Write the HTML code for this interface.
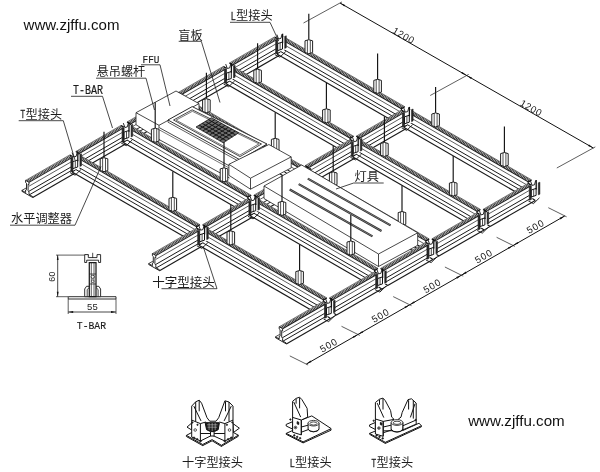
<!DOCTYPE html>
<html><head><meta charset="utf-8"><title>T-BAR ceiling grid</title>
<style>html,body{margin:0;padding:0;background:#fff}svg{display:block;will-change:transform}text{font-family:"Liberation Sans",sans-serif}text.m{font-family:"Liberation Mono",monospace}text.c{font-family:"Liberation Sans","Noto Sans CJK SC",sans-serif}</style></head>
<body>
<svg width="600" height="472" viewBox="0 0 600 472" fill="none" stroke-linecap="butt">
<path d="M229.4 63L274.6 36.9L278 38.9L278 42.7L277.7 47.9L278 51.5L281.7 54L236.5 80.1L232.8 77.6L232.5 74L232.8 68.8L232.8 65Z" fill="#fff" stroke="none" stroke-width="0.8" />
<path d="M231.1 64L276.3 37.9" stroke="#c4c4c4" stroke-width="2.5" />
<path d="M231.1 64L276.3 37.9" stroke="#1e1e1e" stroke-width="2.5" stroke-dasharray="0.8 0.8"/>
<path d="M229.4 63L274.6 36.9" stroke="#1a1a1a" stroke-width="0.6" />
<path d="M232.8 65L278 38.9" stroke="#1a1a1a" stroke-width="1.05" />
<path d="M232.8 68.8L278 42.7" stroke="#1a1a1a" stroke-width="0.7" />
<path d="M232.5 74L277.7 47.9" stroke="#1a1a1a" stroke-width="1.0" />
<path d="M232.8 77.6L278 51.5" stroke="#1a1a1a" stroke-width="1.0" />
<path d="M236.5 80.1L281.7 54" stroke="#1a1a1a" stroke-width="1.15" />
<path d="M229.4 63L232.8 65L232.8 68.8L232.5 74L232.8 77.6L236.5 80.1" fill="none" stroke="#111" stroke-width="1.15" />
<path d="M274.6 36.9L278 38.9L278 42.7L277.7 47.9L278 51.5L281.7 54" fill="none" stroke="#111" stroke-width="1.15" />
<path d="M178.2 92.5L223.4 66.4L226.8 68.4L226.8 72.2L226.5 77.4L226.8 81L230.5 83.5L185.3 109.6L181.6 107.1L181.3 103.5L181.6 98.3L181.6 94.5Z" fill="#fff" stroke="none" stroke-width="0.8" />
<path d="M179.9 93.5L225.1 67.4" stroke="#c4c4c4" stroke-width="2.5" />
<path d="M179.9 93.5L225.1 67.4" stroke="#1e1e1e" stroke-width="2.5" stroke-dasharray="0.8 0.8"/>
<path d="M178.2 92.5L223.4 66.4" stroke="#1a1a1a" stroke-width="0.6" />
<path d="M181.6 94.5L226.8 68.4" stroke="#1a1a1a" stroke-width="1.05" />
<path d="M181.6 98.3L226.8 72.2" stroke="#1a1a1a" stroke-width="0.7" />
<path d="M181.3 103.5L226.5 77.4" stroke="#1a1a1a" stroke-width="1.0" />
<path d="M181.6 107.1L226.8 81" stroke="#1a1a1a" stroke-width="1.0" />
<path d="M185.3 109.6L230.5 83.5" stroke="#1a1a1a" stroke-width="1.15" />
<path d="M178.2 92.5L181.6 94.5L181.6 98.3L181.3 103.5L181.6 107.1L185.3 109.6" fill="none" stroke="#111" stroke-width="1.15" />
<path d="M223.4 66.4L226.8 68.4L226.8 72.2L226.5 77.4L226.8 81L230.5 83.5" fill="none" stroke="#111" stroke-width="1.15" />
<path d="M127 122L172.2 95.9L175.6 97.9L175.6 101.7L175.3 106.9L175.6 110.5L179.3 113L134.1 139.1L130.4 136.6L130.1 133L130.4 127.8L130.4 124Z" fill="#fff" stroke="none" stroke-width="0.8" />
<path d="M128.7 123L173.9 96.9" stroke="#c4c4c4" stroke-width="2.5" />
<path d="M128.7 123L173.9 96.9" stroke="#1e1e1e" stroke-width="2.5" stroke-dasharray="0.8 0.8"/>
<path d="M127 122L172.2 95.9" stroke="#1a1a1a" stroke-width="0.6" />
<path d="M130.4 124L175.6 97.9" stroke="#1a1a1a" stroke-width="1.05" />
<path d="M130.4 127.8L175.6 101.7" stroke="#1a1a1a" stroke-width="0.7" />
<path d="M130.1 133L175.3 106.9" stroke="#1a1a1a" stroke-width="1.0" />
<path d="M130.4 136.6L175.6 110.5" stroke="#1a1a1a" stroke-width="1.0" />
<path d="M134.1 139.1L179.3 113" stroke="#1a1a1a" stroke-width="1.15" />
<path d="M127 122L130.4 124L130.4 127.8L130.1 133L130.4 136.6L134.1 139.1" fill="none" stroke="#111" stroke-width="1.15" />
<path d="M172.2 95.9L175.6 97.9L175.6 101.7L175.3 106.9L175.6 110.5L179.3 113" fill="none" stroke="#111" stroke-width="1.15" />
<path d="M75.8 151.5L121 125.4L124.4 127.4L124.4 131.2L124.1 136.4L124.4 140L128.1 142.5L82.9 168.6L79.2 166.1L78.9 162.5L79.2 157.3L79.2 153.5Z" fill="#fff" stroke="none" stroke-width="0.8" />
<path d="M77.5 152.5L122.7 126.4" stroke="#c4c4c4" stroke-width="2.5" />
<path d="M77.5 152.5L122.7 126.4" stroke="#1e1e1e" stroke-width="2.5" stroke-dasharray="0.8 0.8"/>
<path d="M75.8 151.5L121 125.4" stroke="#1a1a1a" stroke-width="0.6" />
<path d="M79.2 153.5L124.4 127.4" stroke="#1a1a1a" stroke-width="1.05" />
<path d="M79.2 157.3L124.4 131.2" stroke="#1a1a1a" stroke-width="0.7" />
<path d="M78.9 162.5L124.1 136.4" stroke="#1a1a1a" stroke-width="1.0" />
<path d="M79.2 166.1L124.4 140" stroke="#1a1a1a" stroke-width="1.0" />
<path d="M82.9 168.6L128.1 142.5" stroke="#1a1a1a" stroke-width="1.15" />
<path d="M75.8 151.5L79.2 153.5L79.2 157.3L78.9 162.5L79.2 166.1L82.9 168.6" fill="none" stroke="#111" stroke-width="1.15" />
<path d="M121 125.4L124.4 127.4L124.4 131.2L124.1 136.4L124.4 140L128.1 142.5" fill="none" stroke="#111" stroke-width="1.15" />
<path d="M25.6 180.4L69.8 154.9L73.2 156.9L73.2 160.7L72.9 165.9L73.2 169.5L76.9 172L32.7 197.5L29 195L28.7 191.4L29 186.2L29 182.4Z" fill="#fff" stroke="none" stroke-width="0.8" />
<path d="M27.3 181.4L71.5 155.9" stroke="#c4c4c4" stroke-width="2.5" />
<path d="M27.3 181.4L71.5 155.9" stroke="#1e1e1e" stroke-width="2.5" stroke-dasharray="0.8 0.8"/>
<path d="M25.6 180.4L69.8 154.9" stroke="#1a1a1a" stroke-width="0.6" />
<path d="M29 182.4L73.2 156.9" stroke="#1a1a1a" stroke-width="1.05" />
<path d="M29 186.2L73.2 160.7" stroke="#1a1a1a" stroke-width="0.7" />
<path d="M28.7 191.4L72.9 165.9" stroke="#1a1a1a" stroke-width="1.0" />
<path d="M29 195L73.2 169.5" stroke="#1a1a1a" stroke-width="1.0" />
<path d="M32.7 197.5L76.9 172" stroke="#1a1a1a" stroke-width="1.15" />
<path d="M69.8 154.9L73.2 156.9L73.2 160.7L72.9 165.9L73.2 169.5L76.9 172" fill="none" stroke="#111" stroke-width="1.15" />
<path d="M21.9 191.3L32.7 197.5L32.7 196.6L29 194.5L29 192L28.1 190.6L28.1 184.2L29 184.5L29 182.3L25.6 180.3L25.6 182.5L26.5 183.3L26.5 189.7L25.6 190L25.6 192.5L21.9 190.4Z" fill="#fff" stroke="#111" stroke-width="0.9" />
<path d="M21.9 190.4L26.1 188" stroke="#1a1a1a" stroke-width="0.8" />
<path d="M76.7 172.2L83.1 168.5" stroke="#1a1a1a" stroke-width="1.0" />
<path d="M73 169.6L79.4 166" stroke="#1a1a1a" stroke-width="1.0" />
<path d="M127.9 142.7L134.3 139" stroke="#1a1a1a" stroke-width="1.0" />
<path d="M124.2 140.1L130.6 136.5" stroke="#1a1a1a" stroke-width="1.0" />
<path d="M179.1 113.2L185.5 109.5" stroke="#1a1a1a" stroke-width="1.0" />
<path d="M175.4 110.6L181.8 107" stroke="#1a1a1a" stroke-width="1.0" />
<path d="M230.3 83.7L236.7 80" stroke="#1a1a1a" stroke-width="1.0" />
<path d="M226.6 81.1L233 77.5" stroke="#1a1a1a" stroke-width="1.0" />
<path d="M284 36.9L404.8 106.7L401.4 108.7L401.4 112.5L401.7 117.7L401.4 121.3L397.7 123.8L276.9 54L280.6 51.5L280.9 47.9L280.6 42.7L280.6 38.9Z" fill="#fff" stroke="none" stroke-width="0.8" />
<path d="M282.3 37.9L403.1 107.7" stroke="#c4c4c4" stroke-width="2.9" />
<path d="M282.3 37.9L403.1 107.7" stroke="#1e1e1e" stroke-width="2.9" stroke-dasharray="0.8 0.8"/>
<path d="M284 36.9L404.8 106.7" stroke="#1a1a1a" stroke-width="0.6" />
<path d="M280.6 38.9L401.4 108.7" stroke="#1a1a1a" stroke-width="1.05" />
<path d="M280.6 42.7L401.4 112.5" stroke="#1a1a1a" stroke-width="0.7" />
<path d="M280.9 47.9L401.7 117.7" stroke="#1a1a1a" stroke-width="1.0" />
<path d="M280.6 51.5L401.4 121.3" stroke="#1a1a1a" stroke-width="1.0" />
<path d="M276.9 54L397.7 123.8" stroke="#1a1a1a" stroke-width="1.15" />
<path d="M284 36.9L280.6 38.9L280.6 42.7L280.9 47.9L280.6 51.5L276.9 54" fill="none" stroke="#111" stroke-width="1.15" />
<path d="M404.8 106.7L401.4 108.7L401.4 112.5L401.7 117.7L401.4 121.3L397.7 123.8" fill="none" stroke="#111" stroke-width="1.15" />
<path d="M305 52.5L305 40.8Q308.8 38.6 312.6 40.8L312.6 52.5Q308.8 54.9 305 52.5Z" fill="#fff" stroke="#151515" stroke-width="0.95"/>
<path d="M307.4 40.1L307.4 53.6" stroke="#1a1a1a" stroke-width="0.75" />
<path d="M310.3 40.1L310.3 53.6" stroke="#1a1a1a" stroke-width="0.75" />
<path d="M308.8 39.6L308.8 13.8" stroke="#111" stroke-width="1.15" />
<path d="M373.8 92.1L373.8 80.4Q377.6 78.2 381.4 80.4L381.4 92.1Q377.6 94.5 373.8 92.1Z" fill="#fff" stroke="#151515" stroke-width="0.95"/>
<path d="M376.2 79.7L376.2 93.2" stroke="#1a1a1a" stroke-width="0.75" />
<path d="M379.1 79.7L379.1 93.2" stroke="#1a1a1a" stroke-width="0.75" />
<path d="M377.6 79.2L377.6 53.4" stroke="#111" stroke-width="1.15" />
<path d="M275.9 39.2L286.2 35.7L286.2 48.7L275.9 53.4Z" fill="#fff" stroke="none" stroke-width="0.8" />
<path d="M275.7 39.7L277.7 39L277.7 53.2L275.7 53.8Z" fill="#2a2a2a" stroke="#111" stroke-width="0.6" />
<path d="M277.7 43.6L282.5 42L282.5 49L277.7 50.6Z" fill="#fff" stroke="#111" stroke-width="1.0" />
<path d="M280.1 42.8L280.1 49.8" stroke="#222" stroke-width="0.8" />
<path d="M282.6 33.7L282.6 43.2" stroke="#111" stroke-width="1.3" />
<path d="M284.7 36.4L286.3 35.8L286.3 47.8L284.7 48.4Z" fill="#2a2a2a" stroke="#111" stroke-width="0.5" />
<path d="M276.9 34.6L278.5 39L280.9 38.4L282.1 34" fill="none" stroke="#111" stroke-width="0.9" />
<path d="M274.8 54.6L279.9 57.2L285.9 51.4" fill="none" stroke="#111" stroke-width="0.9" />
<path d="M232.8 66.4L353.6 136.2L350.2 138.2L350.2 142L350.5 147.2L350.2 150.8L346.5 153.3L225.7 83.5L229.4 81L229.7 77.4L229.4 72.2L229.4 68.4Z" fill="#fff" stroke="none" stroke-width="0.8" />
<path d="M231.1 67.4L351.9 137.2" stroke="#c4c4c4" stroke-width="2.9" />
<path d="M231.1 67.4L351.9 137.2" stroke="#1e1e1e" stroke-width="2.9" stroke-dasharray="0.8 0.8"/>
<path d="M232.8 66.4L353.6 136.2" stroke="#1a1a1a" stroke-width="0.6" />
<path d="M229.4 68.4L350.2 138.2" stroke="#1a1a1a" stroke-width="1.05" />
<path d="M229.4 72.2L350.2 142" stroke="#1a1a1a" stroke-width="0.7" />
<path d="M229.7 77.4L350.5 147.2" stroke="#1a1a1a" stroke-width="1.0" />
<path d="M229.4 81L350.2 150.8" stroke="#1a1a1a" stroke-width="1.0" />
<path d="M225.7 83.5L346.5 153.3" stroke="#1a1a1a" stroke-width="1.15" />
<path d="M232.8 66.4L229.4 68.4L229.4 72.2L229.7 77.4L229.4 81L225.7 83.5" fill="none" stroke="#111" stroke-width="1.15" />
<path d="M353.6 136.2L350.2 138.2L350.2 142L350.5 147.2L350.2 150.8L346.5 153.3" fill="none" stroke="#111" stroke-width="1.15" />
<path d="M253.8 82L253.8 70.3Q257.6 68.1 261.4 70.3L261.4 82Q257.6 84.4 253.8 82Z" fill="#fff" stroke="#151515" stroke-width="0.95"/>
<path d="M256.2 69.6L256.2 83.1" stroke="#1a1a1a" stroke-width="0.75" />
<path d="M259.1 69.6L259.1 83.1" stroke="#1a1a1a" stroke-width="0.75" />
<path d="M257.6 69.1L257.6 43.3" stroke="#111" stroke-width="1.15" />
<path d="M322.6 121.6L322.6 109.9Q326.4 107.7 330.2 109.9L330.2 121.6Q326.4 124 322.6 121.6Z" fill="#fff" stroke="#151515" stroke-width="0.95"/>
<path d="M325 109.2L325 122.7" stroke="#1a1a1a" stroke-width="0.75" />
<path d="M327.9 109.2L327.9 122.7" stroke="#1a1a1a" stroke-width="0.75" />
<path d="M326.4 108.7L326.4 82.9" stroke="#111" stroke-width="1.15" />
<path d="M224.7 68.7L235 65.2L235 78.2L224.7 82.9Z" fill="#fff" stroke="none" stroke-width="0.8" />
<path d="M224.5 69.2L226.5 68.5L226.5 82.7L224.5 83.3Z" fill="#2a2a2a" stroke="#111" stroke-width="0.6" />
<path d="M226.5 73.1L231.3 71.5L231.3 78.5L226.5 80.1Z" fill="#fff" stroke="#111" stroke-width="1.0" />
<path d="M228.9 72.3L228.9 79.3" stroke="#222" stroke-width="0.8" />
<path d="M231.4 63.2L231.4 72.7" stroke="#111" stroke-width="1.3" />
<path d="M233.5 65.9L235.1 65.3L235.1 77.3L233.5 77.9Z" fill="#2a2a2a" stroke="#111" stroke-width="0.5" />
<path d="M225.7 64.1L227.3 68.5L229.7 67.9L230.9 63.5" fill="none" stroke="#111" stroke-width="0.9" />
<path d="M223.6 84.1L228.7 86.7L234.7 80.9" fill="none" stroke="#111" stroke-width="0.9" />
<path d="M181.6 95.9L302.4 165.7L299 167.7L299 171.5L299.3 176.7L299 180.3L295.3 182.8L174.5 113L178.2 110.5L178.5 106.9L178.2 101.7L178.2 97.9Z" fill="#fff" stroke="none" stroke-width="0.8" />
<path d="M179.9 96.9L300.7 166.7" stroke="#c4c4c4" stroke-width="2.9" />
<path d="M179.9 96.9L300.7 166.7" stroke="#1e1e1e" stroke-width="2.9" stroke-dasharray="0.8 0.8"/>
<path d="M181.6 95.9L302.4 165.7" stroke="#1a1a1a" stroke-width="0.6" />
<path d="M178.2 97.9L299 167.7" stroke="#1a1a1a" stroke-width="1.05" />
<path d="M178.2 101.7L299 171.5" stroke="#1a1a1a" stroke-width="0.7" />
<path d="M178.5 106.9L299.3 176.7" stroke="#1a1a1a" stroke-width="1.0" />
<path d="M178.2 110.5L299 180.3" stroke="#1a1a1a" stroke-width="1.0" />
<path d="M174.5 113L295.3 182.8" stroke="#1a1a1a" stroke-width="1.15" />
<path d="M181.6 95.9L178.2 97.9L178.2 101.7L178.5 106.9L178.2 110.5L174.5 113" fill="none" stroke="#111" stroke-width="1.15" />
<path d="M302.4 165.7L299 167.7L299 171.5L299.3 176.7L299 180.3L295.3 182.8" fill="none" stroke="#111" stroke-width="1.15" />
<path d="M202.6 111.5L202.6 99.8Q206.4 97.6 210.2 99.8L210.2 111.5Q206.4 113.9 202.6 111.5Z" fill="#fff" stroke="#151515" stroke-width="0.95"/>
<path d="M205 99.1L205 112.6" stroke="#1a1a1a" stroke-width="0.75" />
<path d="M207.9 99.1L207.9 112.6" stroke="#1a1a1a" stroke-width="0.75" />
<path d="M206.4 98.6L206.4 72.8" stroke="#111" stroke-width="1.15" />
<path d="M271.4 151.1L271.4 139.4Q275.2 137.2 279 139.4L279 151.1Q275.2 153.5 271.4 151.1Z" fill="#fff" stroke="#151515" stroke-width="0.95"/>
<path d="M273.8 138.7L273.8 152.2" stroke="#1a1a1a" stroke-width="0.75" />
<path d="M276.7 138.7L276.7 152.2" stroke="#1a1a1a" stroke-width="0.75" />
<path d="M275.2 138.2L275.2 112.4" stroke="#111" stroke-width="1.15" />
<path d="M173.5 98.2L183.8 94.7L183.8 107.7L173.5 112.4Z" fill="#fff" stroke="none" stroke-width="0.8" />
<path d="M173.3 98.7L175.3 98L175.3 112.2L173.3 112.8Z" fill="#2a2a2a" stroke="#111" stroke-width="0.6" />
<path d="M175.3 102.6L180.1 101L180.1 108L175.3 109.6Z" fill="#fff" stroke="#111" stroke-width="1.0" />
<path d="M177.7 101.8L177.7 108.8" stroke="#222" stroke-width="0.8" />
<path d="M180.2 92.7L180.2 102.2" stroke="#111" stroke-width="1.3" />
<path d="M182.3 95.4L183.9 94.8L183.9 106.8L182.3 107.4Z" fill="#2a2a2a" stroke="#111" stroke-width="0.5" />
<path d="M174.5 93.6L176.1 98L178.5 97.4L179.7 93" fill="none" stroke="#111" stroke-width="0.9" />
<path d="M172.4 113.6L177.5 116.2L183.5 110.4" fill="none" stroke="#111" stroke-width="0.9" />
<path d="M136 112.7L176 91L199 103.6L199 115.6L159 139.3L136 124.7Z" fill="#fff" stroke="#1a1a1a" stroke-width="0.8" />
<path d="M136 112.7L159 125.3L199 103.6" fill="none" stroke="#1a1a1a" stroke-width="0.8" />
<path d="M159 125.3L159 139.3" stroke="#1a1a1a" stroke-width="0.8" />
<path d="M159 127.5L192 108L266 144L239.5 158.5L229.5 166L229.5 178L159 139.5Z" fill="#fff" stroke="none" stroke-width="0.8" />
<path d="M159 127.5L229.5 166" stroke="#1a1a1a" stroke-width="0.8" />
<path d="M159 139.5L229.5 178" stroke="#1a1a1a" stroke-width="0.8" />
<path d="M159 129.7L229.5 168.2" stroke="#1a1a1a" stroke-width="0.6" />
<path d="M168 120L192.2 106.6L267 144L240 159.8Z" fill="#fff" stroke="#1a1a1a" stroke-width="0.9" />
<path d="M168 122.2L240 162" stroke="#1a1a1a" stroke-width="0.7" />
<path d="M168 120L168 122.2" stroke="#1a1a1a" stroke-width="0.7" />
<path d="M173.5 120L192.2 109.8L261.5 144L240 156.6Z" fill="none" stroke="#1a1a1a" stroke-width="0.8" />
<path d="M176.1 120.1L192.4 111.3L258.9 143.9L239.8 155.1Z" fill="none" stroke="#1a1a1a" stroke-width="0.6" />
<path d="M196 127L211.5 117.7L238.6 132.9L223.2 142.8Z" fill="#6e6e6e" stroke="#1a1a1a" stroke-width="0.8" />
<path d="M199.4 129L214.9 119.6" stroke="#151515" stroke-width="1.0" />
<path d="M202.8 130.9L218.3 121.5" stroke="#151515" stroke-width="1.0" />
<path d="M206.2 132.9L221.7 123.4" stroke="#151515" stroke-width="1.0" />
<path d="M209.6 134.9L225.1 125.3" stroke="#151515" stroke-width="1.0" />
<path d="M213 136.9L228.4 127.2" stroke="#151515" stroke-width="1.0" />
<path d="M216.4 138.9L231.8 129.1" stroke="#151515" stroke-width="1.0" />
<path d="M219.8 140.8L235.2 131" stroke="#151515" stroke-width="1.0" />
<path d="M199.1 125.1L226.3 140.8" stroke="#151515" stroke-width="1.0" />
<path d="M202.2 123.3L229.4 138.8" stroke="#151515" stroke-width="1.0" />
<path d="M205.3 121.4L232.4 136.9" stroke="#151515" stroke-width="1.0" />
<path d="M208.4 119.6L235.5 134.9" stroke="#151515" stroke-width="1.0" />
<path d="M228.9 164.3L268.9 144.5L291.2 156.9L291.2 167.9L250.5 189.2L228.9 175.3Z" fill="#fff" stroke="#1a1a1a" stroke-width="0.8" />
<path d="M228.9 164.3L250.5 178.2L291.2 156.9" fill="none" stroke="#1a1a1a" stroke-width="0.8" />
<path d="M250.5 178.2L250.5 189.2" stroke="#1a1a1a" stroke-width="0.8" />
<path d="M130.4 125.4L251.2 195.2L247.8 197.2L247.8 201L248.1 206.2L247.8 209.8L244.1 212.3L123.3 142.5L127 140L127.3 136.4L127 131.2L127 127.4Z" fill="#fff" stroke="none" stroke-width="0.8" />
<path d="M128.7 126.4L249.5 196.2" stroke="#c4c4c4" stroke-width="2.9" />
<path d="M128.7 126.4L249.5 196.2" stroke="#1e1e1e" stroke-width="2.9" stroke-dasharray="0.8 0.8"/>
<path d="M130.4 125.4L251.2 195.2" stroke="#1a1a1a" stroke-width="0.6" />
<path d="M127 127.4L247.8 197.2" stroke="#1a1a1a" stroke-width="1.05" />
<path d="M127 131.2L247.8 201" stroke="#1a1a1a" stroke-width="0.7" />
<path d="M127.3 136.4L248.1 206.2" stroke="#1a1a1a" stroke-width="1.0" />
<path d="M127 140L247.8 209.8" stroke="#1a1a1a" stroke-width="1.0" />
<path d="M123.3 142.5L244.1 212.3" stroke="#1a1a1a" stroke-width="1.15" />
<path d="M130.4 125.4L127 127.4L127 131.2L127.3 136.4L127 140L123.3 142.5" fill="none" stroke="#111" stroke-width="1.15" />
<path d="M251.2 195.2L247.8 197.2L247.8 201L248.1 206.2L247.8 209.8L244.1 212.3" fill="none" stroke="#111" stroke-width="1.15" />
<path d="M151.4 141L151.4 129.3Q155.2 127.1 159 129.3L159 141Q155.2 143.4 151.4 141Z" fill="#fff" stroke="#151515" stroke-width="0.95"/>
<path d="M153.8 128.6L153.8 142.1" stroke="#1a1a1a" stroke-width="0.75" />
<path d="M156.7 128.6L156.7 142.1" stroke="#1a1a1a" stroke-width="0.75" />
<path d="M155.2 128.1L155.2 102.3" stroke="#111" stroke-width="1.15" />
<path d="M220.2 180.6L220.2 168.9Q224 166.7 227.8 168.9L227.8 180.6Q224 183 220.2 180.6Z" fill="#fff" stroke="#151515" stroke-width="0.95"/>
<path d="M222.6 168.2L222.6 181.7" stroke="#1a1a1a" stroke-width="0.75" />
<path d="M225.5 168.2L225.5 181.7" stroke="#1a1a1a" stroke-width="0.75" />
<path d="M224 167.7L224 141.9" stroke="#111" stroke-width="1.15" />
<path d="M122.3 127.7L132.6 124.2L132.6 137.2L122.3 141.9Z" fill="#fff" stroke="none" stroke-width="0.8" />
<path d="M122.1 128.2L124.1 127.5L124.1 141.7L122.1 142.3Z" fill="#2a2a2a" stroke="#111" stroke-width="0.6" />
<path d="M124.1 132.1L128.9 130.5L128.9 137.5L124.1 139.1Z" fill="#fff" stroke="#111" stroke-width="1.0" />
<path d="M126.5 131.3L126.5 138.3" stroke="#222" stroke-width="0.8" />
<path d="M129 122.2L129 131.7" stroke="#111" stroke-width="1.3" />
<path d="M131.1 124.9L132.7 124.3L132.7 136.3L131.1 136.9Z" fill="#2a2a2a" stroke="#111" stroke-width="0.5" />
<path d="M123.3 123.1L124.9 127.5L127.3 126.9L128.5 122.5" fill="none" stroke="#111" stroke-width="0.9" />
<path d="M121.2 143.1L126.3 145.7L132.3 139.9" fill="none" stroke="#111" stroke-width="0.9" />
<path d="M79.2 154.9L200 224.7L196.6 226.7L196.6 230.5L196.9 235.7L196.6 239.3L192.9 241.8L72.1 172L75.8 169.5L76.1 165.9L75.8 160.7L75.8 156.9Z" fill="#fff" stroke="none" stroke-width="0.8" />
<path d="M77.5 155.9L198.3 225.7" stroke="#c4c4c4" stroke-width="2.9" />
<path d="M77.5 155.9L198.3 225.7" stroke="#1e1e1e" stroke-width="2.9" stroke-dasharray="0.8 0.8"/>
<path d="M79.2 154.9L200 224.7" stroke="#1a1a1a" stroke-width="0.6" />
<path d="M75.8 156.9L196.6 226.7" stroke="#1a1a1a" stroke-width="1.05" />
<path d="M75.8 160.7L196.6 230.5" stroke="#1a1a1a" stroke-width="0.7" />
<path d="M76.1 165.9L196.9 235.7" stroke="#1a1a1a" stroke-width="1.0" />
<path d="M75.8 169.5L196.6 239.3" stroke="#1a1a1a" stroke-width="1.0" />
<path d="M72.1 172L192.9 241.8" stroke="#1a1a1a" stroke-width="1.15" />
<path d="M79.2 154.9L75.8 156.9L75.8 160.7L76.1 165.9L75.8 169.5L72.1 172" fill="none" stroke="#111" stroke-width="1.15" />
<path d="M200 224.7L196.6 226.7L196.6 230.5L196.9 235.7L196.6 239.3L192.9 241.8" fill="none" stroke="#111" stroke-width="1.15" />
<path d="M100.2 170.5L100.2 158.8Q104 156.6 107.8 158.8L107.8 170.5Q104 172.9 100.2 170.5Z" fill="#fff" stroke="#151515" stroke-width="0.95"/>
<path d="M102.6 158.1L102.6 171.6" stroke="#1a1a1a" stroke-width="0.75" />
<path d="M105.5 158.1L105.5 171.6" stroke="#1a1a1a" stroke-width="0.75" />
<path d="M104 157.6L104 131.8" stroke="#111" stroke-width="1.15" />
<path d="M169 210.1L169 198.4Q172.8 196.2 176.6 198.4L176.6 210.1Q172.8 212.5 169 210.1Z" fill="#fff" stroke="#151515" stroke-width="0.95"/>
<path d="M171.4 197.7L171.4 211.2" stroke="#1a1a1a" stroke-width="0.75" />
<path d="M174.3 197.7L174.3 211.2" stroke="#1a1a1a" stroke-width="0.75" />
<path d="M172.8 197.2L172.8 171.4" stroke="#111" stroke-width="1.15" />
<path d="M71.1 157.2L81.4 153.7L81.4 166.7L71.1 171.4Z" fill="#fff" stroke="none" stroke-width="0.8" />
<path d="M70.9 157.7L72.9 157L72.9 171.2L70.9 171.8Z" fill="#2a2a2a" stroke="#111" stroke-width="0.6" />
<path d="M72.9 161.6L77.7 160L77.7 167L72.9 168.6Z" fill="#fff" stroke="#111" stroke-width="1.0" />
<path d="M75.3 160.8L75.3 167.8" stroke="#222" stroke-width="0.8" />
<path d="M77.8 151.7L77.8 161.2" stroke="#111" stroke-width="1.3" />
<path d="M79.9 154.4L81.5 153.8L81.5 165.8L79.9 166.4Z" fill="#2a2a2a" stroke="#111" stroke-width="0.5" />
<path d="M72.1 152.6L73.7 157L76.1 156.4L77.3 152" fill="none" stroke="#111" stroke-width="0.9" />
<path d="M70 172.6L75.1 175.2L81.1 169.4" fill="none" stroke="#111" stroke-width="0.9" />
<path d="M356.2 136.2L401.4 110.1L404.8 112.1L404.8 115.9L404.5 121.1L404.8 124.7L408.5 127.2L363.3 153.3L359.6 150.8L359.3 147.2L359.6 142L359.6 138.2Z" fill="#fff" stroke="none" stroke-width="0.8" />
<path d="M357.9 137.2L403.1 111.1" stroke="#c4c4c4" stroke-width="2.5" />
<path d="M357.9 137.2L403.1 111.1" stroke="#1e1e1e" stroke-width="2.5" stroke-dasharray="0.8 0.8"/>
<path d="M356.2 136.2L401.4 110.1" stroke="#1a1a1a" stroke-width="0.6" />
<path d="M359.6 138.2L404.8 112.1" stroke="#1a1a1a" stroke-width="1.05" />
<path d="M359.6 142L404.8 115.9" stroke="#1a1a1a" stroke-width="0.7" />
<path d="M359.3 147.2L404.5 121.1" stroke="#1a1a1a" stroke-width="1.0" />
<path d="M359.6 150.8L404.8 124.7" stroke="#1a1a1a" stroke-width="1.0" />
<path d="M363.3 153.3L408.5 127.2" stroke="#1a1a1a" stroke-width="1.15" />
<path d="M356.2 136.2L359.6 138.2L359.6 142L359.3 147.2L359.6 150.8L363.3 153.3" fill="none" stroke="#111" stroke-width="1.15" />
<path d="M401.4 110.1L404.8 112.1L404.8 115.9L404.5 121.1L404.8 124.7L408.5 127.2" fill="none" stroke="#111" stroke-width="1.15" />
<path d="M305 165.7L350.2 139.6L353.6 141.6L353.6 145.4L353.3 150.6L353.6 154.2L357.3 156.7L312.1 182.8L308.4 180.3L308.1 176.7L308.4 171.5L308.4 167.7Z" fill="#fff" stroke="none" stroke-width="0.8" />
<path d="M306.7 166.7L351.9 140.6" stroke="#c4c4c4" stroke-width="2.5" />
<path d="M306.7 166.7L351.9 140.6" stroke="#1e1e1e" stroke-width="2.5" stroke-dasharray="0.8 0.8"/>
<path d="M305 165.7L350.2 139.6" stroke="#1a1a1a" stroke-width="0.6" />
<path d="M308.4 167.7L353.6 141.6" stroke="#1a1a1a" stroke-width="1.05" />
<path d="M308.4 171.5L353.6 145.4" stroke="#1a1a1a" stroke-width="0.7" />
<path d="M308.1 176.7L353.3 150.6" stroke="#1a1a1a" stroke-width="1.0" />
<path d="M308.4 180.3L353.6 154.2" stroke="#1a1a1a" stroke-width="1.0" />
<path d="M312.1 182.8L357.3 156.7" stroke="#1a1a1a" stroke-width="1.15" />
<path d="M305 165.7L308.4 167.7L308.4 171.5L308.1 176.7L308.4 180.3L312.1 182.8" fill="none" stroke="#111" stroke-width="1.15" />
<path d="M350.2 139.6L353.6 141.6L353.6 145.4L353.3 150.6L353.6 154.2L357.3 156.7" fill="none" stroke="#111" stroke-width="1.15" />
<path d="M253.8 195.2L299 169.1L302.4 171.1L302.4 174.9L302.1 180.1L302.4 183.7L306.1 186.2L260.9 212.3L257.2 209.8L256.9 206.2L257.2 201L257.2 197.2Z" fill="#fff" stroke="none" stroke-width="0.8" />
<path d="M255.5 196.2L300.7 170.1" stroke="#c4c4c4" stroke-width="2.5" />
<path d="M255.5 196.2L300.7 170.1" stroke="#1e1e1e" stroke-width="2.5" stroke-dasharray="0.8 0.8"/>
<path d="M253.8 195.2L299 169.1" stroke="#1a1a1a" stroke-width="0.6" />
<path d="M257.2 197.2L302.4 171.1" stroke="#1a1a1a" stroke-width="1.05" />
<path d="M257.2 201L302.4 174.9" stroke="#1a1a1a" stroke-width="0.7" />
<path d="M256.9 206.2L302.1 180.1" stroke="#1a1a1a" stroke-width="1.0" />
<path d="M257.2 209.8L302.4 183.7" stroke="#1a1a1a" stroke-width="1.0" />
<path d="M260.9 212.3L306.1 186.2" stroke="#1a1a1a" stroke-width="1.15" />
<path d="M253.8 195.2L257.2 197.2L257.2 201L256.9 206.2L257.2 209.8L260.9 212.3" fill="none" stroke="#111" stroke-width="1.15" />
<path d="M299 169.1L302.4 171.1L302.4 174.9L302.1 180.1L302.4 183.7L306.1 186.2" fill="none" stroke="#111" stroke-width="1.15" />
<path d="M202.6 224.7L247.8 198.6L251.2 200.6L251.2 204.4L250.9 209.6L251.2 213.2L254.9 215.7L209.7 241.8L206 239.3L205.7 235.7L206 230.5L206 226.7Z" fill="#fff" stroke="none" stroke-width="0.8" />
<path d="M204.3 225.7L249.5 199.6" stroke="#c4c4c4" stroke-width="2.5" />
<path d="M204.3 225.7L249.5 199.6" stroke="#1e1e1e" stroke-width="2.5" stroke-dasharray="0.8 0.8"/>
<path d="M202.6 224.7L247.8 198.6" stroke="#1a1a1a" stroke-width="0.6" />
<path d="M206 226.7L251.2 200.6" stroke="#1a1a1a" stroke-width="1.05" />
<path d="M206 230.5L251.2 204.4" stroke="#1a1a1a" stroke-width="0.7" />
<path d="M205.7 235.7L250.9 209.6" stroke="#1a1a1a" stroke-width="1.0" />
<path d="M206 239.3L251.2 213.2" stroke="#1a1a1a" stroke-width="1.0" />
<path d="M209.7 241.8L254.9 215.7" stroke="#1a1a1a" stroke-width="1.15" />
<path d="M202.6 224.7L206 226.7L206 230.5L205.7 235.7L206 239.3L209.7 241.8" fill="none" stroke="#111" stroke-width="1.15" />
<path d="M247.8 198.6L251.2 200.6L251.2 204.4L250.9 209.6L251.2 213.2L254.9 215.7" fill="none" stroke="#111" stroke-width="1.15" />
<path d="M152.4 253.6L196.6 228.1L200 230.1L200 233.9L199.7 239.1L200 242.7L203.7 245.2L159.5 270.7L155.8 268.2L155.5 264.6L155.8 259.4L155.8 255.6Z" fill="#fff" stroke="none" stroke-width="0.8" />
<path d="M154.1 254.6L198.3 229.1" stroke="#c4c4c4" stroke-width="2.5" />
<path d="M154.1 254.6L198.3 229.1" stroke="#1e1e1e" stroke-width="2.5" stroke-dasharray="0.8 0.8"/>
<path d="M152.4 253.6L196.6 228.1" stroke="#1a1a1a" stroke-width="0.6" />
<path d="M155.8 255.6L200 230.1" stroke="#1a1a1a" stroke-width="1.05" />
<path d="M155.8 259.4L200 233.9" stroke="#1a1a1a" stroke-width="0.7" />
<path d="M155.5 264.6L199.7 239.1" stroke="#1a1a1a" stroke-width="1.0" />
<path d="M155.8 268.2L200 242.7" stroke="#1a1a1a" stroke-width="1.0" />
<path d="M159.5 270.7L203.7 245.2" stroke="#1a1a1a" stroke-width="1.15" />
<path d="M196.6 228.1L200 230.1L200 233.9L199.7 239.1L200 242.7L203.7 245.2" fill="none" stroke="#111" stroke-width="1.15" />
<path d="M148.7 264.5L159.5 270.7L159.5 269.8L155.8 267.7L155.8 265.2L154.9 263.8L154.9 257.4L155.8 257.7L155.8 255.5L152.4 253.5L152.4 255.7L153.3 256.5L153.3 262.9L152.4 263.2L152.4 265.7L148.7 263.6Z" fill="#fff" stroke="#111" stroke-width="0.9" />
<path d="M148.7 263.6L152.9 261.2" stroke="#1a1a1a" stroke-width="0.8" />
<path d="M203.5 245.4L209.9 241.7" stroke="#1a1a1a" stroke-width="1.0" />
<path d="M199.8 242.8L206.2 239.2" stroke="#1a1a1a" stroke-width="1.0" />
<path d="M254.7 215.9L261.1 212.2" stroke="#1a1a1a" stroke-width="1.0" />
<path d="M251 213.3L257.4 209.7" stroke="#1a1a1a" stroke-width="1.0" />
<path d="M305.9 186.4L312.3 182.7" stroke="#1a1a1a" stroke-width="1.0" />
<path d="M302.2 183.8L308.6 180.2" stroke="#1a1a1a" stroke-width="1.0" />
<path d="M357.1 156.9L363.5 153.2" stroke="#1a1a1a" stroke-width="1.0" />
<path d="M353.4 154.3L359.8 150.7" stroke="#1a1a1a" stroke-width="1.0" />
<path d="M410.8 110.1L531.6 179.9L528.2 181.9L528.2 185.7L528.5 190.9L528.2 194.5L524.5 197L403.7 127.2L407.4 124.7L407.7 121.1L407.4 115.9L407.4 112.1Z" fill="#fff" stroke="none" stroke-width="0.8" />
<path d="M409.1 111.1L529.9 180.9" stroke="#c4c4c4" stroke-width="2.9" />
<path d="M409.1 111.1L529.9 180.9" stroke="#1e1e1e" stroke-width="2.9" stroke-dasharray="0.8 0.8"/>
<path d="M410.8 110.1L531.6 179.9" stroke="#1a1a1a" stroke-width="0.6" />
<path d="M407.4 112.1L528.2 181.9" stroke="#1a1a1a" stroke-width="1.05" />
<path d="M407.4 115.9L528.2 185.7" stroke="#1a1a1a" stroke-width="0.7" />
<path d="M407.7 121.1L528.5 190.9" stroke="#1a1a1a" stroke-width="1.0" />
<path d="M407.4 124.7L528.2 194.5" stroke="#1a1a1a" stroke-width="1.0" />
<path d="M403.7 127.2L524.5 197" stroke="#1a1a1a" stroke-width="1.15" />
<path d="M410.8 110.1L407.4 112.1L407.4 115.9L407.7 121.1L407.4 124.7L403.7 127.2" fill="none" stroke="#111" stroke-width="1.15" />
<path d="M531.6 179.9L528.2 181.9L528.2 185.7L528.5 190.9L528.2 194.5L524.5 197" fill="none" stroke="#111" stroke-width="1.15" />
<path d="M431.8 125.7L431.8 114Q435.6 111.8 439.4 114L439.4 125.7Q435.6 128.1 431.8 125.7Z" fill="#fff" stroke="#151515" stroke-width="0.95"/>
<path d="M434.2 113.3L434.2 126.8" stroke="#1a1a1a" stroke-width="0.75" />
<path d="M437.1 113.3L437.1 126.8" stroke="#1a1a1a" stroke-width="0.75" />
<path d="M435.6 112.8L435.6 87" stroke="#111" stroke-width="1.15" />
<path d="M500.6 165.3L500.6 153.6Q504.4 151.4 508.2 153.6L508.2 165.3Q504.4 167.7 500.6 165.3Z" fill="#fff" stroke="#151515" stroke-width="0.95"/>
<path d="M503 152.9L503 166.4" stroke="#1a1a1a" stroke-width="0.75" />
<path d="M505.9 152.9L505.9 166.4" stroke="#1a1a1a" stroke-width="0.75" />
<path d="M504.4 152.4L504.4 126.6" stroke="#111" stroke-width="1.15" />
<path d="M402.7 112.4L413 108.9L413 121.9L402.7 126.6Z" fill="#fff" stroke="none" stroke-width="0.8" />
<path d="M402.5 112.9L404.5 112.2L404.5 126.4L402.5 127Z" fill="#2a2a2a" stroke="#111" stroke-width="0.6" />
<path d="M404.5 116.8L409.3 115.2L409.3 122.2L404.5 123.8Z" fill="#fff" stroke="#111" stroke-width="1.0" />
<path d="M406.9 116L406.9 123" stroke="#222" stroke-width="0.8" />
<path d="M409.4 106.9L409.4 116.4" stroke="#111" stroke-width="1.3" />
<path d="M411.5 109.6L413.1 109L413.1 121L411.5 121.6Z" fill="#2a2a2a" stroke="#111" stroke-width="0.5" />
<path d="M403.7 107.8L405.3 112.2L407.7 111.6L408.9 107.2" fill="none" stroke="#111" stroke-width="0.9" />
<path d="M401.6 127.8L406.7 130.4L412.7 124.6" fill="none" stroke="#111" stroke-width="0.9" />
<path d="M359.6 139.6L480.4 209.4L477 211.4L477 215.2L477.3 220.4L477 224L473.3 226.5L352.5 156.7L356.2 154.2L356.5 150.6L356.2 145.4L356.2 141.6Z" fill="#fff" stroke="none" stroke-width="0.8" />
<path d="M357.9 140.6L478.7 210.4" stroke="#c4c4c4" stroke-width="2.9" />
<path d="M357.9 140.6L478.7 210.4" stroke="#1e1e1e" stroke-width="2.9" stroke-dasharray="0.8 0.8"/>
<path d="M359.6 139.6L480.4 209.4" stroke="#1a1a1a" stroke-width="0.6" />
<path d="M356.2 141.6L477 211.4" stroke="#1a1a1a" stroke-width="1.05" />
<path d="M356.2 145.4L477 215.2" stroke="#1a1a1a" stroke-width="0.7" />
<path d="M356.5 150.6L477.3 220.4" stroke="#1a1a1a" stroke-width="1.0" />
<path d="M356.2 154.2L477 224" stroke="#1a1a1a" stroke-width="1.0" />
<path d="M352.5 156.7L473.3 226.5" stroke="#1a1a1a" stroke-width="1.15" />
<path d="M359.6 139.6L356.2 141.6L356.2 145.4L356.5 150.6L356.2 154.2L352.5 156.7" fill="none" stroke="#111" stroke-width="1.15" />
<path d="M480.4 209.4L477 211.4L477 215.2L477.3 220.4L477 224L473.3 226.5" fill="none" stroke="#111" stroke-width="1.15" />
<path d="M380.6 155.2L380.6 143.5Q384.4 141.3 388.2 143.5L388.2 155.2Q384.4 157.6 380.6 155.2Z" fill="#fff" stroke="#151515" stroke-width="0.95"/>
<path d="M383 142.8L383 156.3" stroke="#1a1a1a" stroke-width="0.75" />
<path d="M385.9 142.8L385.9 156.3" stroke="#1a1a1a" stroke-width="0.75" />
<path d="M384.4 142.3L384.4 116.5" stroke="#111" stroke-width="1.15" />
<path d="M449.4 194.8L449.4 183.1Q453.2 180.9 457 183.1L457 194.8Q453.2 197.2 449.4 194.8Z" fill="#fff" stroke="#151515" stroke-width="0.95"/>
<path d="M451.8 182.4L451.8 195.9" stroke="#1a1a1a" stroke-width="0.75" />
<path d="M454.7 182.4L454.7 195.9" stroke="#1a1a1a" stroke-width="0.75" />
<path d="M453.2 181.9L453.2 156.1" stroke="#111" stroke-width="1.15" />
<path d="M351.5 141.9L361.8 138.4L361.8 151.4L351.5 156.1Z" fill="#fff" stroke="none" stroke-width="0.8" />
<path d="M351.3 142.4L353.3 141.7L353.3 155.9L351.3 156.5Z" fill="#2a2a2a" stroke="#111" stroke-width="0.6" />
<path d="M353.3 146.3L358.1 144.7L358.1 151.7L353.3 153.3Z" fill="#fff" stroke="#111" stroke-width="1.0" />
<path d="M355.7 145.5L355.7 152.5" stroke="#222" stroke-width="0.8" />
<path d="M358.2 136.4L358.2 145.9" stroke="#111" stroke-width="1.3" />
<path d="M360.3 139.1L361.9 138.5L361.9 150.5L360.3 151.1Z" fill="#2a2a2a" stroke="#111" stroke-width="0.5" />
<path d="M352.5 137.3L354.1 141.7L356.5 141.1L357.7 136.7" fill="none" stroke="#111" stroke-width="0.9" />
<path d="M350.4 157.3L355.5 159.9L361.5 154.1" fill="none" stroke="#111" stroke-width="0.9" />
<path d="M308.4 169.1L429.2 238.9L425.8 240.9L425.8 244.7L426.1 249.9L425.8 253.5L422.1 256L301.3 186.2L305 183.7L305.3 180.1L305 174.9L305 171.1Z" fill="#fff" stroke="none" stroke-width="0.8" />
<path d="M306.7 170.1L427.5 239.9" stroke="#c4c4c4" stroke-width="2.9" />
<path d="M306.7 170.1L427.5 239.9" stroke="#1e1e1e" stroke-width="2.9" stroke-dasharray="0.8 0.8"/>
<path d="M308.4 169.1L429.2 238.9" stroke="#1a1a1a" stroke-width="0.6" />
<path d="M305 171.1L425.8 240.9" stroke="#1a1a1a" stroke-width="1.05" />
<path d="M305 174.9L425.8 244.7" stroke="#1a1a1a" stroke-width="0.7" />
<path d="M305.3 180.1L426.1 249.9" stroke="#1a1a1a" stroke-width="1.0" />
<path d="M305 183.7L425.8 253.5" stroke="#1a1a1a" stroke-width="1.0" />
<path d="M301.3 186.2L422.1 256" stroke="#1a1a1a" stroke-width="1.15" />
<path d="M308.4 169.1L305 171.1L305 174.9L305.3 180.1L305 183.7L301.3 186.2" fill="none" stroke="#111" stroke-width="1.15" />
<path d="M429.2 238.9L425.8 240.9L425.8 244.7L426.1 249.9L425.8 253.5L422.1 256" fill="none" stroke="#111" stroke-width="1.15" />
<path d="M329.4 184.7L329.4 173Q333.2 170.8 337 173L337 184.7Q333.2 187.1 329.4 184.7Z" fill="#fff" stroke="#151515" stroke-width="0.95"/>
<path d="M331.8 172.3L331.8 185.8" stroke="#1a1a1a" stroke-width="0.75" />
<path d="M334.7 172.3L334.7 185.8" stroke="#1a1a1a" stroke-width="0.75" />
<path d="M333.2 171.8L333.2 146" stroke="#111" stroke-width="1.15" />
<path d="M398.2 224.3L398.2 212.6Q402 210.4 405.8 212.6L405.8 224.3Q402 226.7 398.2 224.3Z" fill="#fff" stroke="#151515" stroke-width="0.95"/>
<path d="M400.6 211.9L400.6 225.4" stroke="#1a1a1a" stroke-width="0.75" />
<path d="M403.5 211.9L403.5 225.4" stroke="#1a1a1a" stroke-width="0.75" />
<path d="M402 211.4L402 185.6" stroke="#111" stroke-width="1.15" />
<path d="M300.3 171.4L310.6 167.9L310.6 180.9L300.3 185.6Z" fill="#fff" stroke="none" stroke-width="0.8" />
<path d="M300.1 171.9L302.1 171.2L302.1 185.4L300.1 186Z" fill="#2a2a2a" stroke="#111" stroke-width="0.6" />
<path d="M302.1 175.8L306.9 174.2L306.9 181.2L302.1 182.8Z" fill="#fff" stroke="#111" stroke-width="1.0" />
<path d="M304.5 175L304.5 182" stroke="#222" stroke-width="0.8" />
<path d="M307 165.9L307 175.4" stroke="#111" stroke-width="1.3" />
<path d="M309.1 168.6L310.7 168L310.7 180L309.1 180.6Z" fill="#2a2a2a" stroke="#111" stroke-width="0.5" />
<path d="M301.3 166.8L302.9 171.2L305.3 170.6L306.5 166.2" fill="none" stroke="#111" stroke-width="0.9" />
<path d="M299.2 186.8L304.3 189.4L310.3 183.6" fill="none" stroke="#111" stroke-width="0.9" />
<path d="M264 186L301.7 165L417.7 232.8L417.7 245.3L378.5 266.5L264 198.5Z" fill="#fff" stroke="#1a1a1a" stroke-width="0.8" />
<path d="M264 186L378.5 254L417.7 232.8" fill="none" stroke="#1a1a1a" stroke-width="0.8" />
<path d="M378.5 254L378.5 266.5" stroke="#1a1a1a" stroke-width="0.8" />
<path d="M307.8 178.6L390.6 225.3" stroke="#262626" stroke-width="2.1" />
<path d="M307.8 178.6L390.6 225.3" stroke="#c8c8c8" stroke-width="0.5" />
<path d="M298.7 184.2L381.5 231" stroke="#262626" stroke-width="2.1" />
<path d="M298.7 184.2L381.5 231" stroke="#c8c8c8" stroke-width="0.5" />
<path d="M289.7 189.5L372.5 236.3" stroke="#262626" stroke-width="2.1" />
<path d="M289.7 189.5L372.5 236.3" stroke="#c8c8c8" stroke-width="0.5" />
<path d="M257.2 198.6L378 268.4L374.6 270.4L374.6 274.2L374.9 279.4L374.6 283L370.9 285.5L250.1 215.7L253.8 213.2L254.1 209.6L253.8 204.4L253.8 200.6Z" fill="#fff" stroke="none" stroke-width="0.8" />
<path d="M255.5 199.6L376.3 269.4" stroke="#c4c4c4" stroke-width="2.9" />
<path d="M255.5 199.6L376.3 269.4" stroke="#1e1e1e" stroke-width="2.9" stroke-dasharray="0.8 0.8"/>
<path d="M257.2 198.6L378 268.4" stroke="#1a1a1a" stroke-width="0.6" />
<path d="M253.8 200.6L374.6 270.4" stroke="#1a1a1a" stroke-width="1.05" />
<path d="M253.8 204.4L374.6 274.2" stroke="#1a1a1a" stroke-width="0.7" />
<path d="M254.1 209.6L374.9 279.4" stroke="#1a1a1a" stroke-width="1.0" />
<path d="M253.8 213.2L374.6 283" stroke="#1a1a1a" stroke-width="1.0" />
<path d="M250.1 215.7L370.9 285.5" stroke="#1a1a1a" stroke-width="1.15" />
<path d="M257.2 198.6L253.8 200.6L253.8 204.4L254.1 209.6L253.8 213.2L250.1 215.7" fill="none" stroke="#111" stroke-width="1.15" />
<path d="M378 268.4L374.6 270.4L374.6 274.2L374.9 279.4L374.6 283L370.9 285.5" fill="none" stroke="#111" stroke-width="1.15" />
<path d="M278.2 214.2L278.2 202.5Q282 200.3 285.8 202.5L285.8 214.2Q282 216.6 278.2 214.2Z" fill="#fff" stroke="#151515" stroke-width="0.95"/>
<path d="M280.6 201.8L280.6 215.3" stroke="#1a1a1a" stroke-width="0.75" />
<path d="M283.5 201.8L283.5 215.3" stroke="#1a1a1a" stroke-width="0.75" />
<path d="M282 201.3L282 175.5" stroke="#111" stroke-width="1.15" />
<path d="M347 253.8L347 242.1Q350.8 239.9 354.6 242.1L354.6 253.8Q350.8 256.2 347 253.8Z" fill="#fff" stroke="#151515" stroke-width="0.95"/>
<path d="M349.4 241.4L349.4 254.9" stroke="#1a1a1a" stroke-width="0.75" />
<path d="M352.3 241.4L352.3 254.9" stroke="#1a1a1a" stroke-width="0.75" />
<path d="M350.8 240.9L350.8 215.1" stroke="#111" stroke-width="1.15" />
<path d="M249.1 200.9L259.4 197.4L259.4 210.4L249.1 215.1Z" fill="#fff" stroke="none" stroke-width="0.8" />
<path d="M248.9 201.4L250.9 200.7L250.9 214.9L248.9 215.5Z" fill="#2a2a2a" stroke="#111" stroke-width="0.6" />
<path d="M250.9 205.3L255.7 203.7L255.7 210.7L250.9 212.3Z" fill="#fff" stroke="#111" stroke-width="1.0" />
<path d="M253.3 204.5L253.3 211.5" stroke="#222" stroke-width="0.8" />
<path d="M255.8 195.4L255.8 204.9" stroke="#111" stroke-width="1.3" />
<path d="M257.9 198.1L259.5 197.5L259.5 209.5L257.9 210.1Z" fill="#2a2a2a" stroke="#111" stroke-width="0.5" />
<path d="M250.1 196.3L251.7 200.7L254.1 200.1L255.3 195.7" fill="none" stroke="#111" stroke-width="0.9" />
<path d="M248 216.3L253.1 218.9L259.1 213.1" fill="none" stroke="#111" stroke-width="0.9" />
<path d="M206 228.1L326.8 297.9L323.4 299.9L323.4 303.7L323.7 308.9L323.4 312.5L319.7 315L198.9 245.2L202.6 242.7L202.9 239.1L202.6 233.9L202.6 230.1Z" fill="#fff" stroke="none" stroke-width="0.8" />
<path d="M204.3 229.1L325.1 298.9" stroke="#c4c4c4" stroke-width="2.9" />
<path d="M204.3 229.1L325.1 298.9" stroke="#1e1e1e" stroke-width="2.9" stroke-dasharray="0.8 0.8"/>
<path d="M206 228.1L326.8 297.9" stroke="#1a1a1a" stroke-width="0.6" />
<path d="M202.6 230.1L323.4 299.9" stroke="#1a1a1a" stroke-width="1.05" />
<path d="M202.6 233.9L323.4 303.7" stroke="#1a1a1a" stroke-width="0.7" />
<path d="M202.9 239.1L323.7 308.9" stroke="#1a1a1a" stroke-width="1.0" />
<path d="M202.6 242.7L323.4 312.5" stroke="#1a1a1a" stroke-width="1.0" />
<path d="M198.9 245.2L319.7 315" stroke="#1a1a1a" stroke-width="1.15" />
<path d="M206 228.1L202.6 230.1L202.6 233.9L202.9 239.1L202.6 242.7L198.9 245.2" fill="none" stroke="#111" stroke-width="1.15" />
<path d="M326.8 297.9L323.4 299.9L323.4 303.7L323.7 308.9L323.4 312.5L319.7 315" fill="none" stroke="#111" stroke-width="1.15" />
<path d="M227 243.7L227 232Q230.8 229.8 234.6 232L234.6 243.7Q230.8 246.1 227 243.7Z" fill="#fff" stroke="#151515" stroke-width="0.95"/>
<path d="M229.4 231.3L229.4 244.8" stroke="#1a1a1a" stroke-width="0.75" />
<path d="M232.3 231.3L232.3 244.8" stroke="#1a1a1a" stroke-width="0.75" />
<path d="M230.8 230.8L230.8 205" stroke="#111" stroke-width="1.15" />
<path d="M295.8 283.3L295.8 271.6Q299.6 269.4 303.4 271.6L303.4 283.3Q299.6 285.7 295.8 283.3Z" fill="#fff" stroke="#151515" stroke-width="0.95"/>
<path d="M298.2 270.9L298.2 284.4" stroke="#1a1a1a" stroke-width="0.75" />
<path d="M301.1 270.9L301.1 284.4" stroke="#1a1a1a" stroke-width="0.75" />
<path d="M299.6 270.4L299.6 244.6" stroke="#111" stroke-width="1.15" />
<path d="M197.9 230.4L208.2 226.9L208.2 239.9L197.9 244.6Z" fill="#fff" stroke="none" stroke-width="0.8" />
<path d="M197.7 230.9L199.7 230.2L199.7 244.4L197.7 245Z" fill="#2a2a2a" stroke="#111" stroke-width="0.6" />
<path d="M199.7 234.8L204.5 233.2L204.5 240.2L199.7 241.8Z" fill="#fff" stroke="#111" stroke-width="1.0" />
<path d="M202.1 234L202.1 241" stroke="#222" stroke-width="0.8" />
<path d="M204.6 224.9L204.6 234.4" stroke="#111" stroke-width="1.3" />
<path d="M206.7 227.6L208.3 227L208.3 239L206.7 239.6Z" fill="#2a2a2a" stroke="#111" stroke-width="0.5" />
<path d="M198.9 225.8L200.5 230.2L202.9 229.6L204.1 225.2" fill="none" stroke="#111" stroke-width="0.9" />
<path d="M196.8 245.8L201.9 248.4L207.9 242.6" fill="none" stroke="#111" stroke-width="0.9" />
<path d="M483 209.4L528.2 183.3L531.6 185.3L531.6 189.1L531.3 194.3L531.6 197.9L535.3 200.4L490.1 226.5L486.4 224L486.1 220.4L486.4 215.2L486.4 211.4Z" fill="#fff" stroke="none" stroke-width="0.8" />
<path d="M484.7 210.4L529.9 184.3" stroke="#c4c4c4" stroke-width="2.5" />
<path d="M484.7 210.4L529.9 184.3" stroke="#1e1e1e" stroke-width="2.5" stroke-dasharray="0.8 0.8"/>
<path d="M483 209.4L528.2 183.3" stroke="#1a1a1a" stroke-width="0.6" />
<path d="M486.4 211.4L531.6 185.3" stroke="#1a1a1a" stroke-width="1.05" />
<path d="M486.4 215.2L531.6 189.1" stroke="#1a1a1a" stroke-width="0.7" />
<path d="M486.1 220.4L531.3 194.3" stroke="#1a1a1a" stroke-width="1.0" />
<path d="M486.4 224L531.6 197.9" stroke="#1a1a1a" stroke-width="1.0" />
<path d="M490.1 226.5L535.3 200.4" stroke="#1a1a1a" stroke-width="1.15" />
<path d="M483 209.4L486.4 211.4L486.4 215.2L486.1 220.4L486.4 224L490.1 226.5" fill="none" stroke="#111" stroke-width="1.15" />
<path d="M528.2 183.3L531.6 185.3L531.6 189.1L531.3 194.3L531.6 197.9L535.3 200.4" fill="none" stroke="#111" stroke-width="1.15" />
<path d="M431.8 238.9L477 212.8L480.4 214.8L480.4 218.6L480.1 223.8L480.4 227.4L484.1 229.9L438.9 256L435.2 253.5L434.9 249.9L435.2 244.7L435.2 240.9Z" fill="#fff" stroke="none" stroke-width="0.8" />
<path d="M433.5 239.9L478.7 213.8" stroke="#c4c4c4" stroke-width="2.5" />
<path d="M433.5 239.9L478.7 213.8" stroke="#1e1e1e" stroke-width="2.5" stroke-dasharray="0.8 0.8"/>
<path d="M431.8 238.9L477 212.8" stroke="#1a1a1a" stroke-width="0.6" />
<path d="M435.2 240.9L480.4 214.8" stroke="#1a1a1a" stroke-width="1.05" />
<path d="M435.2 244.7L480.4 218.6" stroke="#1a1a1a" stroke-width="0.7" />
<path d="M434.9 249.9L480.1 223.8" stroke="#1a1a1a" stroke-width="1.0" />
<path d="M435.2 253.5L480.4 227.4" stroke="#1a1a1a" stroke-width="1.0" />
<path d="M438.9 256L484.1 229.9" stroke="#1a1a1a" stroke-width="1.15" />
<path d="M431.8 238.9L435.2 240.9L435.2 244.7L434.9 249.9L435.2 253.5L438.9 256" fill="none" stroke="#111" stroke-width="1.15" />
<path d="M477 212.8L480.4 214.8L480.4 218.6L480.1 223.8L480.4 227.4L484.1 229.9" fill="none" stroke="#111" stroke-width="1.15" />
<path d="M380.6 268.4L425.8 242.3L429.2 244.3L429.2 248.1L428.9 253.3L429.2 256.9L432.9 259.4L387.7 285.5L384 283L383.7 279.4L384 274.2L384 270.4Z" fill="#fff" stroke="none" stroke-width="0.8" />
<path d="M382.3 269.4L427.5 243.3" stroke="#c4c4c4" stroke-width="2.5" />
<path d="M382.3 269.4L427.5 243.3" stroke="#1e1e1e" stroke-width="2.5" stroke-dasharray="0.8 0.8"/>
<path d="M380.6 268.4L425.8 242.3" stroke="#1a1a1a" stroke-width="0.6" />
<path d="M384 270.4L429.2 244.3" stroke="#1a1a1a" stroke-width="1.05" />
<path d="M384 274.2L429.2 248.1" stroke="#1a1a1a" stroke-width="0.7" />
<path d="M383.7 279.4L428.9 253.3" stroke="#1a1a1a" stroke-width="1.0" />
<path d="M384 283L429.2 256.9" stroke="#1a1a1a" stroke-width="1.0" />
<path d="M387.7 285.5L432.9 259.4" stroke="#1a1a1a" stroke-width="1.15" />
<path d="M380.6 268.4L384 270.4L384 274.2L383.7 279.4L384 283L387.7 285.5" fill="none" stroke="#111" stroke-width="1.15" />
<path d="M425.8 242.3L429.2 244.3L429.2 248.1L428.9 253.3L429.2 256.9L432.9 259.4" fill="none" stroke="#111" stroke-width="1.15" />
<path d="M329.4 297.9L374.6 271.8L378 273.8L378 277.6L377.7 282.8L378 286.4L381.7 288.9L336.5 315L332.8 312.5L332.5 308.9L332.8 303.7L332.8 299.9Z" fill="#fff" stroke="none" stroke-width="0.8" />
<path d="M331.1 298.9L376.3 272.8" stroke="#c4c4c4" stroke-width="2.5" />
<path d="M331.1 298.9L376.3 272.8" stroke="#1e1e1e" stroke-width="2.5" stroke-dasharray="0.8 0.8"/>
<path d="M329.4 297.9L374.6 271.8" stroke="#1a1a1a" stroke-width="0.6" />
<path d="M332.8 299.9L378 273.8" stroke="#1a1a1a" stroke-width="1.05" />
<path d="M332.8 303.7L378 277.6" stroke="#1a1a1a" stroke-width="0.7" />
<path d="M332.5 308.9L377.7 282.8" stroke="#1a1a1a" stroke-width="1.0" />
<path d="M332.8 312.5L378 286.4" stroke="#1a1a1a" stroke-width="1.0" />
<path d="M336.5 315L381.7 288.9" stroke="#1a1a1a" stroke-width="1.15" />
<path d="M329.4 297.9L332.8 299.9L332.8 303.7L332.5 308.9L332.8 312.5L336.5 315" fill="none" stroke="#111" stroke-width="1.15" />
<path d="M374.6 271.8L378 273.8L378 277.6L377.7 282.8L378 286.4L381.7 288.9" fill="none" stroke="#111" stroke-width="1.15" />
<path d="M279.2 326.8L323.4 301.3L326.8 303.3L326.8 307.1L326.5 312.3L326.8 315.9L330.5 318.4L286.3 343.9L282.6 341.4L282.3 337.8L282.6 332.6L282.6 328.8Z" fill="#fff" stroke="none" stroke-width="0.8" />
<path d="M280.9 327.8L325.1 302.3" stroke="#c4c4c4" stroke-width="2.5" />
<path d="M280.9 327.8L325.1 302.3" stroke="#1e1e1e" stroke-width="2.5" stroke-dasharray="0.8 0.8"/>
<path d="M279.2 326.8L323.4 301.3" stroke="#1a1a1a" stroke-width="0.6" />
<path d="M282.6 328.8L326.8 303.3" stroke="#1a1a1a" stroke-width="1.05" />
<path d="M282.6 332.6L326.8 307.1" stroke="#1a1a1a" stroke-width="0.7" />
<path d="M282.3 337.8L326.5 312.3" stroke="#1a1a1a" stroke-width="1.0" />
<path d="M282.6 341.4L326.8 315.9" stroke="#1a1a1a" stroke-width="1.0" />
<path d="M286.3 343.9L330.5 318.4" stroke="#1a1a1a" stroke-width="1.15" />
<path d="M323.4 301.3L326.8 303.3L326.8 307.1L326.5 312.3L326.8 315.9L330.5 318.4" fill="none" stroke="#111" stroke-width="1.15" />
<path d="M275.5 337.7L286.3 343.9L286.3 343L282.6 340.9L282.6 338.4L281.7 337L281.7 330.6L282.6 330.9L282.6 328.7L279.2 326.7L279.2 328.9L280.1 329.7L280.1 336.1L279.2 336.4L279.2 338.9L275.5 336.8Z" fill="#fff" stroke="#111" stroke-width="0.9" />
<path d="M275.5 336.8L279.7 334.4" stroke="#1a1a1a" stroke-width="0.8" />
<path d="M330.3 318.6L336.7 314.9" stroke="#1a1a1a" stroke-width="1.0" />
<path d="M326.6 316L333 312.4" stroke="#1a1a1a" stroke-width="1.0" />
<path d="M381.5 289.1L387.9 285.4" stroke="#1a1a1a" stroke-width="1.0" />
<path d="M377.8 286.5L384.2 282.9" stroke="#1a1a1a" stroke-width="1.0" />
<path d="M432.7 259.6L439.1 255.9" stroke="#1a1a1a" stroke-width="1.0" />
<path d="M429 257L435.4 253.4" stroke="#1a1a1a" stroke-width="1.0" />
<path d="M483.9 230.1L490.3 226.4" stroke="#1a1a1a" stroke-width="1.0" />
<path d="M480.2 227.5L486.6 223.9" stroke="#1a1a1a" stroke-width="1.0" />
<path d="M324.7 303.6L335 300.1L335 313.1L324.7 317.8Z" fill="#fff" stroke="none" stroke-width="0.8" />
<path d="M324.5 304.1L326.5 303.4L326.5 317.6L324.5 318.2Z" fill="#2a2a2a" stroke="#111" stroke-width="0.6" />
<path d="M326.5 308L331.3 306.4L331.3 313.4L326.5 315Z" fill="#fff" stroke="#111" stroke-width="1.0" />
<path d="M328.9 307.2L328.9 314.2" stroke="#222" stroke-width="0.8" />
<path d="M331.4 298.1L331.4 307.6" stroke="#111" stroke-width="1.3" />
<path d="M333.5 300.8L335.1 300.2L335.1 312.2L333.5 312.8Z" fill="#2a2a2a" stroke="#111" stroke-width="0.5" />
<path d="M325.7 299L327.3 303.4L329.7 302.8L330.9 298.4" fill="none" stroke="#111" stroke-width="0.9" />
<path d="M323.6 319L328.7 321.6L334.7 315.8" fill="none" stroke="#111" stroke-width="0.9" />
<path d="M375.9 274.1L386.2 270.6L386.2 283.6L375.9 288.3Z" fill="#fff" stroke="none" stroke-width="0.8" />
<path d="M375.7 274.6L377.7 273.9L377.7 288.1L375.7 288.7Z" fill="#2a2a2a" stroke="#111" stroke-width="0.6" />
<path d="M377.7 278.5L382.5 276.9L382.5 283.9L377.7 285.5Z" fill="#fff" stroke="#111" stroke-width="1.0" />
<path d="M380.1 277.7L380.1 284.7" stroke="#222" stroke-width="0.8" />
<path d="M382.6 268.6L382.6 278.1" stroke="#111" stroke-width="1.3" />
<path d="M384.7 271.3L386.3 270.7L386.3 282.7L384.7 283.3Z" fill="#2a2a2a" stroke="#111" stroke-width="0.5" />
<path d="M376.9 269.5L378.5 273.9L380.9 273.3L382.1 268.9" fill="none" stroke="#111" stroke-width="0.9" />
<path d="M374.8 289.5L379.9 292.1L385.9 286.3" fill="none" stroke="#111" stroke-width="0.9" />
<path d="M427.1 244.6L437.4 241.1L437.4 254.1L427.1 258.8Z" fill="#fff" stroke="none" stroke-width="0.8" />
<path d="M426.9 245.1L428.9 244.4L428.9 258.6L426.9 259.2Z" fill="#2a2a2a" stroke="#111" stroke-width="0.6" />
<path d="M428.9 249L433.7 247.4L433.7 254.4L428.9 256Z" fill="#fff" stroke="#111" stroke-width="1.0" />
<path d="M431.3 248.2L431.3 255.2" stroke="#222" stroke-width="0.8" />
<path d="M433.8 239.1L433.8 248.6" stroke="#111" stroke-width="1.3" />
<path d="M435.9 241.8L437.5 241.2L437.5 253.2L435.9 253.8Z" fill="#2a2a2a" stroke="#111" stroke-width="0.5" />
<path d="M428.1 240L429.7 244.4L432.1 243.8L433.3 239.4" fill="none" stroke="#111" stroke-width="0.9" />
<path d="M426 260L431.1 262.6L437.1 256.8" fill="none" stroke="#111" stroke-width="0.9" />
<path d="M478.3 215.1L488.6 211.6L488.6 224.6L478.3 229.3Z" fill="#fff" stroke="none" stroke-width="0.8" />
<path d="M478.1 215.6L480.1 214.9L480.1 229.1L478.1 229.7Z" fill="#2a2a2a" stroke="#111" stroke-width="0.6" />
<path d="M480.1 219.5L484.9 217.9L484.9 224.9L480.1 226.5Z" fill="#fff" stroke="#111" stroke-width="1.0" />
<path d="M482.5 218.7L482.5 225.7" stroke="#222" stroke-width="0.8" />
<path d="M485 209.6L485 219.1" stroke="#111" stroke-width="1.3" />
<path d="M487.1 212.3L488.7 211.7L488.7 223.7L487.1 224.3Z" fill="#2a2a2a" stroke="#111" stroke-width="0.5" />
<path d="M479.3 210.5L480.9 214.9L483.3 214.3L484.5 209.9" fill="none" stroke="#111" stroke-width="0.9" />
<path d="M477.2 230.5L482.3 233.1L488.3 227.3" fill="none" stroke="#111" stroke-width="0.9" />
<path d="M529.5 185.6L539.8 182.1L539.8 195.1L529.5 199.8Z" fill="#fff" stroke="none" stroke-width="0.8" />
<path d="M529.3 186.1L531.3 185.4L531.3 199.6L529.3 200.2Z" fill="#2a2a2a" stroke="#111" stroke-width="0.6" />
<path d="M531.3 190L536.1 188.4L536.1 195.4L531.3 197Z" fill="#fff" stroke="#111" stroke-width="1.0" />
<path d="M533.7 189.2L533.7 196.2" stroke="#222" stroke-width="0.8" />
<path d="M536.2 180.1L536.2 189.6" stroke="#111" stroke-width="1.3" />
<path d="M538.3 182.8L539.9 182.2L539.9 194.2L538.3 194.8Z" fill="#2a2a2a" stroke="#111" stroke-width="0.5" />
<path d="M530.5 181L532.1 185.4L534.5 184.8L535.7 180.4" fill="none" stroke="#111" stroke-width="0.9" />
<path d="M528.4 201L533.5 203.6L539.5 197.8" fill="none" stroke="#111" stroke-width="0.9" />
<path d="M340 3L593.3 148" stroke="#111" stroke-width="1.0" />
<path d="M342 1.9L303.5 23" stroke="#1a1a1a" stroke-width="0.7" />
<path d="M468.7 74.4L430.2 95.5" stroke="#1a1a1a" stroke-width="0.7" />
<path d="M595.3 146.9L556.8 168" stroke="#1a1a1a" stroke-width="0.7" />
<path d="M340 3L345.2 4.9L344.3 6.5Z" fill="#111" stroke="none" stroke-width="0.8" />
<path d="M466.7 75.5L461.5 73.6L462.4 72Z" fill="#111" stroke="none" stroke-width="0.8" />
<path d="M466.7 75.5L471.9 77.4L471 79Z" fill="#111" stroke="none" stroke-width="0.8" />
<path d="M593.3 148L588.1 146.1L589 144.5Z" fill="#111" stroke="none" stroke-width="0.8" />
<text x="402" y="38.4" transform="rotate(29.8 402 38.4)" font-size="9.6" text-anchor="middle" letter-spacing="0.6" fill="#151515" stroke="none" font-weight="normal" style="font-family:'Liberation Sans'">1200</text>
<text x="529.5" y="110.9" transform="rotate(29.8 529.5 110.9)" font-size="9.6" text-anchor="middle" letter-spacing="0.6" fill="#151515" stroke="none" font-weight="normal" style="font-family:'Liberation Sans'">1200</text>
<path d="M306.3 364.1L564.8 215.9" stroke="#111" stroke-width="1.0" />
<path d="M308.1 365L289.8 355.9" stroke="#1a1a1a" stroke-width="0.7" />
<path d="M306.3 364.1L310.6 360.6L311.5 362.1Z" fill="#111" stroke="none" stroke-width="0.8" />
<path d="M359.8 335.4L341.5 326.3" stroke="#1a1a1a" stroke-width="0.7" />
<path d="M358 334.5L353.7 338L352.8 336.4Z" fill="#111" stroke="none" stroke-width="0.8" />
<path d="M358 334.5L362.3 330.9L363.2 332.5Z" fill="#111" stroke="none" stroke-width="0.8" />
<path d="M411.5 305.7L393.2 296.6" stroke="#1a1a1a" stroke-width="0.7" />
<path d="M409.7 304.8L405.4 308.3L404.5 306.8Z" fill="#111" stroke="none" stroke-width="0.8" />
<path d="M409.7 304.8L414 301.3L414.9 302.8Z" fill="#111" stroke="none" stroke-width="0.8" />
<path d="M463.2 276.1L444.9 267" stroke="#1a1a1a" stroke-width="0.7" />
<path d="M461.4 275.2L457.1 278.7L456.2 277.1Z" fill="#111" stroke="none" stroke-width="0.8" />
<path d="M461.4 275.2L465.7 271.6L466.6 273.2Z" fill="#111" stroke="none" stroke-width="0.8" />
<path d="M514.9 246.4L496.6 237.3" stroke="#1a1a1a" stroke-width="0.7" />
<path d="M513.1 245.5L508.8 249L507.9 247.5Z" fill="#111" stroke="none" stroke-width="0.8" />
<path d="M513.1 245.5L517.4 242L518.3 243.5Z" fill="#111" stroke="none" stroke-width="0.8" />
<path d="M566.6 216.8L548.3 207.7" stroke="#1a1a1a" stroke-width="0.7" />
<path d="M564.8 215.9L560.5 219.4L559.6 217.8Z" fill="#111" stroke="none" stroke-width="0.8" />
<text x="330.4" y="348" transform="rotate(-29.8 330.4 348)" font-size="9.6" text-anchor="middle" letter-spacing="1.0" fill="#151515" stroke="none" font-weight="normal" style="font-family:'Liberation Sans'">500</text>
<text x="382.2" y="318.3" transform="rotate(-29.8 382.2 318.3)" font-size="9.6" text-anchor="middle" letter-spacing="1.0" fill="#151515" stroke="none" font-weight="normal" style="font-family:'Liberation Sans'">500</text>
<text x="433.9" y="288.7" transform="rotate(-29.8 433.9 288.7)" font-size="9.6" text-anchor="middle" letter-spacing="1.0" fill="#151515" stroke="none" font-weight="normal" style="font-family:'Liberation Sans'">500</text>
<text x="485.6" y="259" transform="rotate(-29.8 485.6 259)" font-size="9.6" text-anchor="middle" letter-spacing="1.0" fill="#151515" stroke="none" font-weight="normal" style="font-family:'Liberation Sans'">500</text>
<text x="537.2" y="229.4" transform="rotate(-29.8 537.2 229.4)" font-size="9.6" text-anchor="middle" letter-spacing="1.0" fill="#151515" stroke="none" font-weight="normal" style="font-family:'Liberation Sans'">500</text>
<text x="231.1" y="19.7" font-size="10.6" fill="#1c1c1c" stroke="#1c1c1c" stroke-width="0.3" textLength="4.6" lengthAdjust="spacingAndGlyphs">L</text>
<text class="c" x="236.1" y="20.3" font-size="12.2" fill="#1c1c1c" stroke="none" textLength="36.6" lengthAdjust="spacingAndGlyphs">型接头</text>
<path d="M230 22.3L270 22.3L278.7 41" fill="none" stroke="#1a1a1a" stroke-width="0.8" />
<text class="c" x="178.2" y="39.5" font-size="12.2" fill="#1c1c1c" stroke="none" textLength="24.4" lengthAdjust="spacingAndGlyphs">盲板</text>
<path d="M178.7 41.3L201.3 41.3L220 102.5" fill="none" stroke="#1a1a1a" stroke-width="0.8" />
<text x="142.6" y="63.2" font-size="11.2" class="m" fill="#1c1c1c" stroke="#1c1c1c" stroke-width="0.2" textLength="16.8" lengthAdjust="spacingAndGlyphs">FFU</text>
<path d="M141 64.8L160 64.8L170 106" fill="none" stroke="#1a1a1a" stroke-width="0.8" />
<text class="c" x="96.5" y="76.3" font-size="12.2" fill="#1c1c1c" stroke="none" textLength="48.8" lengthAdjust="spacingAndGlyphs">悬吊螺杆</text>
<path d="M96 78.2L146 78.2L154.5 110" fill="none" stroke="#1a1a1a" stroke-width="0.8" />
<text x="73" y="94.2" font-size="12.4" class="m" fill="#1c1c1c" stroke="#1c1c1c" stroke-width="0.2" textLength="30" lengthAdjust="spacingAndGlyphs">T-BAR</text>
<path d="M71 96.3L102.5 96.3L112.5 128" fill="none" stroke="#1a1a1a" stroke-width="0.8" />
<text x="20.6" y="118" font-size="10.6" fill="#1c1c1c" stroke="#1c1c1c" stroke-width="0.3" textLength="4.6" lengthAdjust="spacingAndGlyphs">T</text>
<text class="c" x="25.6" y="118.6" font-size="12.2" fill="#1c1c1c" stroke="none" textLength="36.6" lengthAdjust="spacingAndGlyphs">型接头</text>
<path d="M18.7 120.7L63.3 120.7L75 160" fill="none" stroke="#1a1a1a" stroke-width="0.8" />
<text class="c" x="11" y="223.2" font-size="12.2" fill="#1c1c1c" stroke="none" textLength="61" lengthAdjust="spacingAndGlyphs">水平调整器</text>
<path d="M10 225.2L75 225.2L101 166.5" fill="none" stroke="#1a1a1a" stroke-width="0.8" />
<text class="c" x="152.3" y="286.5" font-size="12.5" fill="#1c1c1c" stroke="none" textLength="62.5" lengthAdjust="spacingAndGlyphs">十字型接头</text>
<path d="M161.5 288.7L217 288.7L203 246" fill="none" stroke="#1a1a1a" stroke-width="0.8" />
<text class="c" x="354.5" y="180.6" font-size="12.2" fill="#1c1c1c" stroke="none" textLength="24.4" lengthAdjust="spacingAndGlyphs">灯具</text>
<path d="M383.7 183L353.7 183L336 189" fill="none" stroke="#1a1a1a" stroke-width="0.8" />
<text class="c" x="182" y="467.3" font-size="12.2" fill="#1c1c1c" stroke="none" textLength="61" lengthAdjust="spacingAndGlyphs">十字型接头</text>
<text x="290.1" y="466.7" font-size="10.6" fill="#1c1c1c" stroke="#1c1c1c" stroke-width="0.3" textLength="4.6" lengthAdjust="spacingAndGlyphs">L</text>
<text class="c" x="295.1" y="467.3" font-size="12.2" fill="#1c1c1c" stroke="none" textLength="36.6" lengthAdjust="spacingAndGlyphs">型接头</text>
<text x="371.6" y="466.7" font-size="10.6" fill="#1c1c1c" stroke="#1c1c1c" stroke-width="0.3" textLength="4.6" lengthAdjust="spacingAndGlyphs">T</text>
<text class="c" x="376.6" y="467.3" font-size="12.2" fill="#1c1c1c" stroke="none" textLength="36.6" lengthAdjust="spacingAndGlyphs">型接头</text>
<text x="23.5" y="29.5" font-size="14.6" fill="#111" stroke="none" textLength="96" lengthAdjust="spacingAndGlyphs">www.zjffu.com</text>
<text x="468.2" y="425.6" font-size="14.6" fill="#111" stroke="none" textLength="96.5" lengthAdjust="spacingAndGlyphs">www.zjffu.com</text>
<path d="M56 255.1L89 255.1" stroke="#1a1a1a" stroke-width="0.7" />
<path d="M56 296.7L68 296.7" stroke="#1a1a1a" stroke-width="0.7" />
<path d="M57.7 255.1L57.7 296.7" stroke="#1a1a1a" stroke-width="0.8" />
<path d="M57.7 255.1L58.6 260.1L56.8 260.1Z" fill="#111" stroke="none" stroke-width="0.8" />
<path d="M57.7 296.7L56.8 291.7L58.6 291.7Z" fill="#111" stroke="none" stroke-width="0.8" />
<text x="55.2" y="276.5" transform="rotate(-90 55.2 276.5)" font-size="8.8" text-anchor="middle" letter-spacing="0.3" fill="#222" stroke="none" font-weight="normal" style="font-family:'Liberation Sans'">60</text>
<path d="M68.2 299L68.2 314" stroke="#1a1a1a" stroke-width="0.7" />
<path d="M116 299L116 314" stroke="#1a1a1a" stroke-width="0.7" />
<path d="M68.2 312L116 312" stroke="#1a1a1a" stroke-width="0.8" />
<path d="M68.2 312L73.2 311.1L73.2 312.9Z" fill="#111" stroke="none" stroke-width="0.8" />
<path d="M116 312L111 312.9L111 311.1Z" fill="#111" stroke="none" stroke-width="0.8" />
<text x="92.6" y="310.3" transform="rotate(0 92.6 310.3)" font-size="9.5" text-anchor="middle" letter-spacing="0.3" fill="#222" stroke="none" font-weight="normal" style="font-family:'Liberation Sans'">55</text>
<text x="76.8" y="328.6" font-size="10.8" class="m" fill="#1c1c1c" stroke="#1c1c1c" stroke-width="0.15" textLength="29.3" lengthAdjust="spacingAndGlyphs">T-BAR</text>
<path d="M68.2 296.7L116 296.7L116 299L68.2 299Z" fill="#fff" stroke="#1a1a1a" stroke-width="0.9" />
<path d="M84.7 296.7L84.7 289L86.5 286.3L98.8 286.3L100.6 289L100.6 296.7Z" fill="#fff" stroke="#1a1a1a" stroke-width="0.9" />
<path d="M87.2 296.7L87.2 289.5" stroke="#1a1a1a" stroke-width="0.8" />
<path d="M98.1 296.7L98.1 289.5" stroke="#1a1a1a" stroke-width="0.8" />
<path d="M87.2 289.5L89.3 287.5L96 287.5L98.1 289.5" fill="none" stroke="#1a1a1a" stroke-width="0.8" />
<path d="M89.3 262.5L96 262.5L96 296.7L89.3 296.7Z" fill="#fff" stroke="#1a1a1a" stroke-width="1.25" />
<path d="M91.3 262.5L91.3 296.7" stroke="#1a1a1a" stroke-width="0.7" />
<path d="M94 262.5L94 296.7" stroke="#1a1a1a" stroke-width="0.7" />
<circle cx="92.7" cy="276.8" r="1.6" stroke="#1a1a1a" stroke-width="0.8" fill="#fff"/>
<circle cx="92.7" cy="281.2" r="1.3" stroke="#1a1a1a" stroke-width="0.7" fill="#fff"/>
<path d="M89.3 274L96 274" stroke="#1a1a1a" stroke-width="0.7" />
<path d="M89.3 284L96 284" stroke="#1a1a1a" stroke-width="0.7" />
<path d="M84.7 254.6L88.3 254.6L88.3 257.6L97 257.6L97 254.6L100.6 254.6L100.6 262.5L98.6 262.5L98.6 260.2L86.7 260.2L86.7 262.5L84.7 262.5Z" fill="#fff" stroke="#1a1a1a" stroke-width="0.9" />
<path d="M92.7 252.8L92.7 258" stroke="#1a1a1a" stroke-width="0.8" />
<path d="M191.7 432.5L186.4 435.4L186.4 436.5L202.7 445.6L212.1 440.8L221.4 446.4L238.3 436.3L238.3 435.2L233.4 432.5L212.1 430Z" fill="#fff" stroke="#111" stroke-width="1.0" stroke-linejoin="round"/>
<path d="M186.4 435.4L202.7 444.5L212.1 439.6L221.4 445.3L238.3 435.2" fill="none" stroke="#111" stroke-width="1.0" stroke-linejoin="round"/>
<path d="M202.7 444.5L202.7 445.6" fill="none" stroke="#111" stroke-width="1.0" stroke-linejoin="round"/>
<path d="M221.4 445.3L221.4 446.4" fill="none" stroke="#111" stroke-width="1.0" stroke-linejoin="round"/>
<path d="M191.7 423L187 427.1L191.7 430Z" fill="#fff" stroke="#111" stroke-width="1.0" stroke-linejoin="round"/>
<path d="M233 423.6L239.4 428.2L233.4 432.5Z" fill="#fff" stroke="#111" stroke-width="1.0" stroke-linejoin="round"/>
<path d="M191.7 437L191.7 406.1L195.7 401.8L199.2 400.2L201.6 403.2L207 417.7L209.7 421.2L216.1 421.2L218.7 417.7L224.9 400.8L229 402L233 406.1L233 437L224.9 441L212.1 435.2L200.4 441Z" fill="#fff" stroke="#111" stroke-width="1.0" stroke-linejoin="round"/>
<path d="M195.7 401.8L195.7 421.2" fill="none" stroke="#111" stroke-width="1.0" stroke-linejoin="round"/>
<path d="M199.2 400.6L199.2 411.3" fill="none" stroke="#111" stroke-width="1.0" stroke-linejoin="round"/>
<path d="M193.8 406.1L201 420.9" fill="none" stroke="#111" stroke-width="1.0" stroke-linejoin="round"/>
<path d="M229 402L229 421.2" fill="none" stroke="#111" stroke-width="1.0" stroke-linejoin="round"/>
<path d="M225.5 401.4L225.5 411.3" fill="none" stroke="#111" stroke-width="1.0" stroke-linejoin="round"/>
<path d="M231.3 406.1L224.1 420.9" fill="none" stroke="#111" stroke-width="1.0" stroke-linejoin="round"/>
<path d="M191.7 420.1L200.4 423.6L205.9 422" fill="none" stroke="#111" stroke-width="1.0" stroke-linejoin="round"/>
<path d="M200.4 423.6L200.4 441" fill="none" stroke="#111" stroke-width="1.0" stroke-linejoin="round"/>
<path d="M233 420.1L224.9 423.6L219.4 422" fill="none" stroke="#111" stroke-width="1.0" stroke-linejoin="round"/>
<path d="M224.9 423.6L224.9 441" fill="none" stroke="#111" stroke-width="1.0" stroke-linejoin="round"/>
<path d="M205.1 422.7L219.4 422.7L218.2 429.7L214.4 431.6L210.5 431.6L206.6 429.7Z" fill="#1c1c1c" stroke="#111" stroke-width="1.0" stroke-linejoin="round"/>
<path d="M207 424.8L217.5 424.8" fill="none" stroke="#ddd" stroke-width="0.5" />
<path d="M207.5 427.2L217.1 427.2" fill="none" stroke="#ddd" stroke-width="0.5" />
<path d="M209.1 423L209.1 430" fill="none" stroke="#ddd" stroke-width="0.5" />
<path d="M212.2 423L212.2 431.4" fill="none" stroke="#ddd" stroke-width="0.5" />
<path d="M215.2 423L215.2 430" fill="none" stroke="#ddd" stroke-width="0.5" />
<path d="M210.5 431.6L210.5 436L214.1 436L214.1 431.6Z" fill="#fff" stroke="#111" stroke-width="1.0" stroke-linejoin="round"/>
<path d="M200.4 433.5L210.5 433.5" fill="none" stroke="#111" stroke-width="1.0" stroke-linejoin="round"/>
<path d="M214.1 433.5L224.9 433.5" fill="none" stroke="#111" stroke-width="1.0" stroke-linejoin="round"/>
<circle cx="195.2" cy="430" r="1.3" fill="#fff" stroke="#151515" stroke-width="0.7"/>
<circle cx="229.5" cy="430" r="1.3" fill="#fff" stroke="#151515" stroke-width="0.7"/>
<circle cx="192.4" cy="422.5" r="0.7" fill="#333" stroke="#151515" stroke-width="0.7"/>
<circle cx="197.5" cy="424.8" r="0.7" fill="#333" stroke="#151515" stroke-width="0.7"/>
<circle cx="226.9" cy="424.8" r="0.7" fill="#333" stroke="#151515" stroke-width="0.7"/>
<circle cx="232.4" cy="422.5" r="0.7" fill="#333" stroke="#151515" stroke-width="0.7"/>
<circle cx="194" cy="437.7" r="0.8" fill="#222" stroke="#151515" stroke-width="0.7"/>
<circle cx="197.2" cy="439.3" r="0.8" fill="#222" stroke="#151515" stroke-width="0.7"/>
<circle cx="200.5" cy="441.2" r="0.8" fill="#222" stroke="#151515" stroke-width="0.7"/>
<circle cx="224.8" cy="441.2" r="0.8" fill="#222" stroke="#151515" stroke-width="0.7"/>
<circle cx="228.1" cy="439.3" r="0.8" fill="#222" stroke="#151515" stroke-width="0.7"/>
<circle cx="231.3" cy="437.7" r="0.8" fill="#222" stroke="#151515" stroke-width="0.7"/>
<path d="M292.6 421.7L286.2 424.4L286.2 426L292.6 429.1Z" fill="#fff" stroke="#111" stroke-width="1.0" stroke-linejoin="round"/>
<path d="M292.6 430.5L286.2 433.4L286.2 434.3L303.1 442.9L331 430.2L331 428.5L311.8 415.9L301.3 420Z" fill="#fff" stroke="#111" stroke-width="1.0" stroke-linejoin="round"/>
<path d="M286.2 433.4L303.1 441.9L331 428.7" fill="none" stroke="#111" stroke-width="1.0" stroke-linejoin="round"/>
<path d="M303.1 441.9L303.1 442.9" fill="none" stroke="#111" stroke-width="1.0" stroke-linejoin="round"/>
<path d="M292.6 432.2L292.6 401.3L296.1 398.4L299.6 397.2L301.9 399.6L307.1 408.3L307.7 417.1L301.3 420L301.3 434.9Z" fill="#fff" stroke="#111" stroke-width="1.0" stroke-linejoin="round"/>
<path d="M296.1 398.8L296.1 403.7" fill="none" stroke="#111" stroke-width="1.0" stroke-linejoin="round"/>
<path d="M293.7 401.9L300.7 417.1" fill="none" stroke="#111" stroke-width="1.0" stroke-linejoin="round"/>
<path d="M299.6 397.8L299.6 408.3" fill="none" stroke="#111" stroke-width="1.0" stroke-linejoin="round"/>
<path d="M292.6 417.4L301.3 420L301.3 434.9" fill="none" stroke="#111" stroke-width="1.0" stroke-linejoin="round"/>
<path d="M301.3 427L308.1 425.2" fill="none" stroke="#111" stroke-width="1.0" stroke-linejoin="round"/>
<path d="M301.3 432.2L308.5 429.5" fill="none" stroke="#111" stroke-width="1.0" stroke-linejoin="round"/>
<path d="M308.1 423.2L308.1 429.1L310.1 431L313.5 431.9L317 431L319 429.1L319 423.2Z" fill="#fff" stroke="#111" stroke-width="1.0" stroke-linejoin="round"/>
<path d="M308.1 429.1A5.5 2.8 0 0 0 319 429.1" fill="none" stroke="#151515" stroke-width="0.8"/>
<ellipse cx="313.5" cy="423.2" rx="5.5" ry="2.8" fill="#fff" stroke="#151515" stroke-width="0.8"/>
<ellipse cx="313.5" cy="423.5" rx="3.5" ry="1.6" fill="#fff" stroke="#151515" stroke-width="0.8"/>
<circle cx="295.5" cy="427.5" r="1.3" fill="#fff" stroke="#151515" stroke-width="0.7"/>
<circle cx="295.5" cy="427.5" r="0.5" fill="#444" stroke="#151515" stroke-width="0.7"/>
<path d="M297.2 421.7L298.7 422.2L298.7 424.4L297.2 423.9Z" fill="#444" stroke="#111" stroke-width="1.0" stroke-linejoin="round"/>
<circle cx="290.4" cy="419.5" r="0.7" fill="#333" stroke="#151515" stroke-width="0.7"/>
<circle cx="294.3" cy="435.4" r="0.8" fill="#222" stroke="#151515" stroke-width="0.7"/>
<circle cx="297.2" cy="436.9" r="0.8" fill="#222" stroke="#151515" stroke-width="0.7"/>
<circle cx="300.1" cy="438.2" r="0.8" fill="#222" stroke="#151515" stroke-width="0.7"/>
<path d="M375.4 422.5L369.6 424.9L369.6 426.5L375.4 429.5Z" fill="#fff" stroke="#111" stroke-width="1.0" stroke-linejoin="round"/>
<path d="M375.4 431L369.6 433.4L369.6 434.3L385.3 443.4L421.4 426.8L421.4 425.8L419.1 423.2L402.8 430.5Z" fill="#fff" stroke="#111" stroke-width="1.0" stroke-linejoin="round"/>
<path d="M369.6 433.4L385.3 442.3L421.4 425.8" fill="none" stroke="#111" stroke-width="1.0" stroke-linejoin="round"/>
<path d="M385.3 442.3L385.3 443.4" fill="none" stroke="#111" stroke-width="1.0" stroke-linejoin="round"/>
<path d="M398.1 419.4L401 417.1L402.2 412.4L408 399.6L411.5 398.8L416.2 403.1L416.2 424.1L402.8 429.9L402.8 422.5Z" fill="#fff" stroke="#111" stroke-width="1.0" stroke-linejoin="round"/>
<path d="M413.3 400.4L413.3 418.6" fill="none" stroke="#111" stroke-width="1.0" stroke-linejoin="round"/>
<path d="M415 403.7L410.4 417.4" fill="none" stroke="#111" stroke-width="1.0" stroke-linejoin="round"/>
<path d="M408.6 400.2L408.6 409.5" fill="none" stroke="#111" stroke-width="1.0" stroke-linejoin="round"/>
<path d="M416.2 420L402.8 425.8" fill="none" stroke="#111" stroke-width="1.0" stroke-linejoin="round"/>
<path d="M375.4 434L375.4 402.5L379.5 399.2L383 398.1L385.3 400.7L390.6 410.6L391.7 417.1L394.1 419.4L383.2 421.4L383.2 436.3Z" fill="#fff" stroke="#111" stroke-width="1.0" stroke-linejoin="round"/>
<path d="M379.5 399.6L379.5 404.8" fill="none" stroke="#111" stroke-width="1.0" stroke-linejoin="round"/>
<path d="M377.2 403.1L383.8 417.6" fill="none" stroke="#111" stroke-width="1.0" stroke-linejoin="round"/>
<path d="M383 398.8L383 409.5" fill="none" stroke="#111" stroke-width="1.0" stroke-linejoin="round"/>
<path d="M375.4 419L383.2 421.4L383.2 436.3" fill="none" stroke="#111" stroke-width="1.0" stroke-linejoin="round"/>
<path d="M383.2 427L391.1 425.2" fill="none" stroke="#111" stroke-width="1.0" stroke-linejoin="round"/>
<path d="M383.2 432.8L391.7 429.9" fill="none" stroke="#111" stroke-width="1.0" stroke-linejoin="round"/>
<path d="M391.1 422.5L391.1 429.1L393.2 431.2L397 432L400.7 431.2L402.8 429.1L402.8 422.5Z" fill="#fff" stroke="#111" stroke-width="1.0" stroke-linejoin="round"/>
<path d="M391.1 429.1A5.8 2.9 0 0 0 402.8 429.1" fill="none" stroke="#151515" stroke-width="0.8"/>
<ellipse cx="397" cy="422.5" rx="5.8" ry="2.9" fill="#fff" stroke="#151515" stroke-width="0.8"/>
<ellipse cx="397" cy="422.8" rx="3.7" ry="1.6" fill="#fff" stroke="#151515" stroke-width="0.8"/>
<circle cx="378.9" cy="428.1" r="1.3" fill="#fff" stroke="#151515" stroke-width="0.7"/>
<circle cx="378.9" cy="428.1" r="0.5" fill="#444" stroke="#151515" stroke-width="0.7"/>
<path d="M380.4 422.5L381.8 423L381.8 425.1L380.4 424.6Z" fill="#444" stroke="#111" stroke-width="1.0" stroke-linejoin="round"/>
<circle cx="373.7" cy="420.7" r="0.7" fill="#333" stroke="#151515" stroke-width="0.7"/>
<circle cx="415.6" cy="420" r="0.7" fill="#333" stroke="#151515" stroke-width="0.7"/>
<circle cx="376.6" cy="435.4" r="0.8" fill="#222" stroke="#151515" stroke-width="0.7"/>
<circle cx="379.5" cy="436.9" r="0.8" fill="#222" stroke="#151515" stroke-width="0.7"/>
<circle cx="382.7" cy="438.4" r="0.8" fill="#222" stroke="#151515" stroke-width="0.7"/>
</svg>
</body></html>
